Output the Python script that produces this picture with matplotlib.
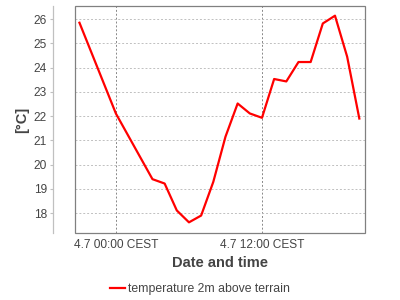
import pandas as pd
import matplotlib
matplotlib.use("Agg")
import matplotlib.pyplot as plt
from matplotlib.patches import Rectangle

plt.rcParams["font.family"] = ["Liberation Sans", "DejaVu Sans"]

# hourly temperature, 3 Jul 21:00 .. 4 Jul 20:00
times = pd.date_range("2014-07-03 21:00", periods=24, freq="h")
temps = [25.85, 24.6, 23.35, 22.1, 21.2, 20.3, 19.4, 19.22, 18.11, 17.62,
         17.9, 19.29, 21.15, 22.52, 22.11, 21.93, 23.53, 23.43, 24.23, 24.23,
         25.82, 26.14, 24.45, 21.9]
yticks = [18, 19, 20, 21, 22, 23, 24, 25, 26]
xticks = pd.to_datetime(["2014-07-04 00:00", "2014-07-04 12:00"])
xticklabels = ["4.7 00:00 CEST", "4.7 12:00 CEST"]

text_col = "#444444"

fig = plt.figure(figsize=(4, 3), dpi=100)
ax = fig.add_axes([0.1875, 0.2233, 0.725, 0.7567])

ax.plot(times, temps, color="#ff0000", lw=1.6,
        label="temperature 2m above terrain", zorder=3)

# axes limits
ax.set_ylim(17.18, 26.54)
ax.set_xlim(pd.Timestamp("2014-07-03 20:38"), pd.Timestamp("2014-07-04 20:28"))

ax.set_yticks(yticks)
ax.set_xticks(xticks)
ax.set_xticklabels(xticklabels)

# grid
ax.grid(axis="y", color="#c0c0c0", linestyle=(0, (2, 2)), lw=0.7)
for t in xticks:
    ax.axvline(t, color="#888888", linestyle=(0, (2, 2)), lw=0.7, zorder=1)

# frame and offset y axis
for s in ["top", "right", "bottom"]:
    ax.spines[s].set_visible(False)
ax.spines["left"].set_position(("outward", 15.8))
ax.spines["left"].set_color("#c0c0c0")
ax.spines["left"].set_linewidth(0.9)
ax.add_patch(Rectangle((0, 0), 1, 1, transform=ax.transAxes, fill=False,
                       edgecolor="#808080", lw=0.9, clip_on=False, zorder=4))

ax.tick_params(axis="y", length=2, width=0.8, color="#c0c0c0", pad=2.5,
               labelsize=8.6, labelcolor=text_col)
ax.tick_params(axis="x", length=0, pad=4, labelsize=8.6, labelcolor=text_col)

ax.set_xlabel("Date and time", fontsize=10.5, fontweight="bold",
              color=text_col, labelpad=4)
ax.set_ylabel("[°C]", fontsize=10.5, fontweight="bold", color=text_col,
              labelpad=3)

fig.legend(loc="center", bbox_to_anchor=(0.5, 0.037), frameon=False,
           fontsize=8.8, labelcolor=text_col, handlelength=1.2,
           handletextpad=0.3)

fig.savefig("out.png", dpi=100)
